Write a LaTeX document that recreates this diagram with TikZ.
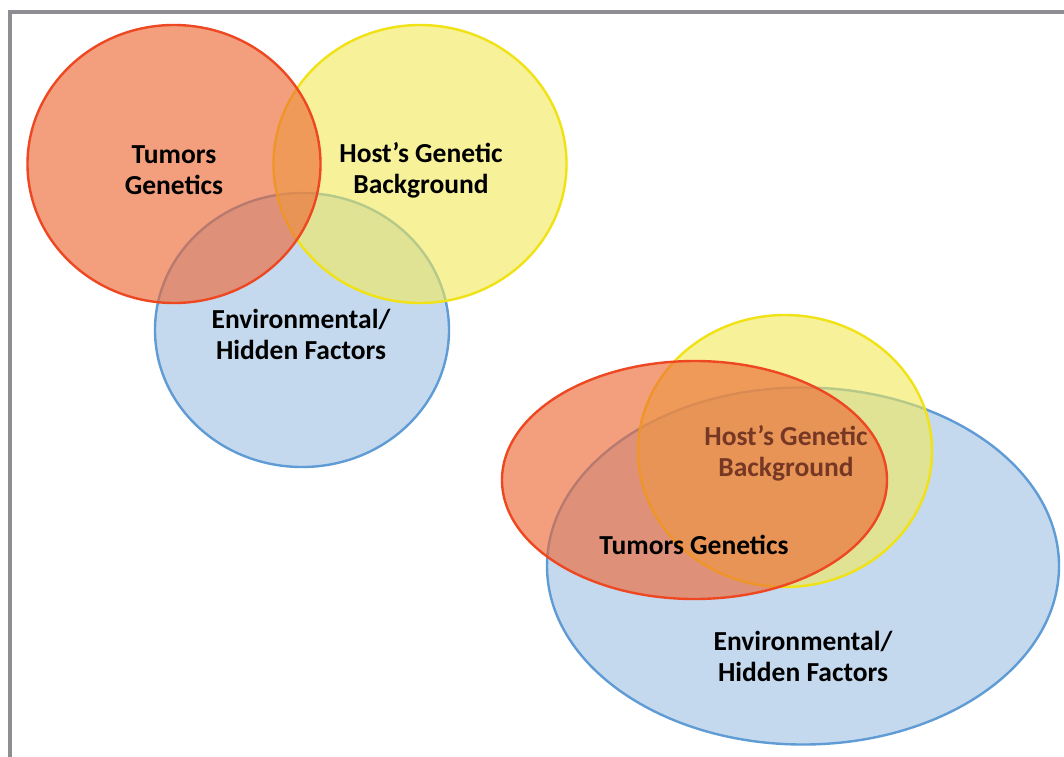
\documentclass[tikz,border=0pt]{standalone}
\usepackage{fontspec}
\setmainfont{Carlito}
\usetikzlibrary{shapes.geometric}
\definecolor{redfill}{RGB}{237,104,52}
\definecolor{redline}{RGB}{238,72,35}
\definecolor{yelfill}{RGB}{242,233,88}
\definecolor{yelline}{RGB}{240,226,20}
\definecolor{bluefill}{RGB}{197,217,238}
\definecolor{blueline}{RGB}{95,155,212}
\definecolor{frame}{RGB}{142,142,146}
\definecolor{brownt}{RGB}{118,56,36}
\tikzset{
  venn/.style={ellipse, inner sep=0pt, line width=2.4pt},
  redset/.style={venn, draw=redline, fill=redfill, fill opacity=0.63},
  yelset/.style={venn, draw=yelline, fill=yelfill, fill opacity=0.6},
  blueset/.style={venn, draw=blueline, fill=bluefill},
  lbl/.style={align=center, font=\fontsize{27.5}{31}\selectfont\bfseries, text=black, inner sep=0pt}
}
\begin{document}
\begin{tikzpicture}[x=1pt,y=-1pt]
\useasboundingbox (0,0) rectangle (1064,756);
\fill[white] (0,0) rectangle (1064,756);
\draw[frame, line width=3.5pt] (10,760) -- (10,12) -- (1070,12);
% first set
\node[blueset, minimum width=294pt, minimum height=274pt] (b1) at (302,330) {};
\node[yelset, minimum width=293pt, minimum height=278pt] (y1) at (420,164) {};
\node[redset, minimum width=293pt, minimum height=278pt] (r1) at (174,164) {};
\node[lbl] (t1) at (174,170) {Tumors\\Genetics};
\node[lbl] (h1) at (421,170) {Host’s Genetic\\Background};
\node[lbl] (e1) at (301,334) {Environmental/\\Hidden Factors};
% second set
\node[blueset, minimum width=512pt, minimum height=357pt] (b2) at (803,566) {};
\node[yelset, minimum width=294pt, minimum height=272pt] (y2) at (785,451) {};
\node[redset, minimum width=385pt, minimum height=238pt] (r2) at (694.5,480) {};
\node[lbl, text=brownt] (h2) at (786,453) {Host’s Genetic\\Background};
\node[lbl] (t2) at (694,545) {Tumors Genetics};
\node[lbl] (e2) at (803,656) {Environmental/\\Hidden Factors};
\end{tikzpicture}
\end{document}
